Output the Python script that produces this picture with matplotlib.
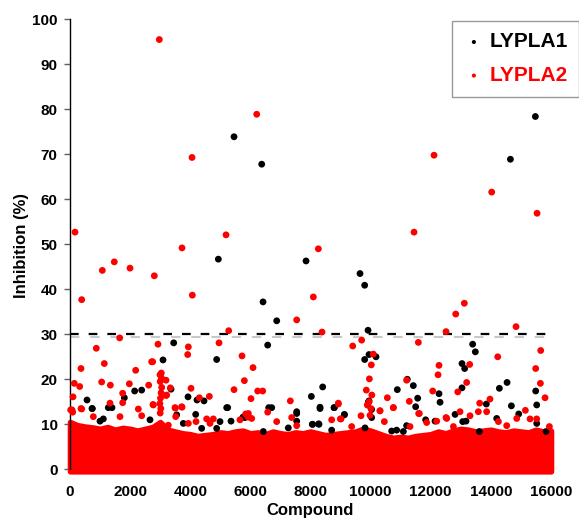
import numpy as np
import matplotlib.pyplot as plt

plt.rcParams['font.family'] = ['Liberation Sans', 'DejaVu Sans']
plt.rcParams['font.weight'] = 'bold'

# dense band of low-inhibition compounds: upper edge
band_x = [0, 250, 500, 750, 1000, 1250, 1500, 1750, 2000, 2250, 2500, 2750,
          3000, 3250, 3500, 3750, 4000, 4250, 4500, 4750, 5000, 5250, 5500,
          5750, 6000, 6250, 6500, 6750, 7000, 7250, 7500, 7750, 8000, 8250,
          8500, 8750, 9000, 9250, 9500, 9750, 10000, 10250, 10500, 10750,
          11000, 11250, 11500, 11750, 12000, 12250, 12500, 12750, 13000,
          13250, 13500, 13750, 14000, 14250, 14500, 14750, 15000, 15250,
          15500, 15750, 16000]
band_top = [10.5, 9.8, 9.5, 9.3, 9.0, 9.4, 8.8, 9.2, 9.0, 8.6, 9.0, 9.4,
            10.5, 8.8, 8.4, 8.0, 7.8, 7.4, 7.6, 7.8, 8.2, 8.0, 8.4,
            8.6, 8.0, 8.2, 7.8, 8.4, 8.0, 7.8, 8.2, 8.0, 8.4, 8.0,
            7.6, 7.8, 8.0, 8.2, 8.4, 9.0, 8.6, 8.0, 7.4, 7.0,
            7.2, 7.0, 7.4, 7.6, 7.8, 8.4, 8.0, 8.6, 9.0,
            8.8, 8.4, 8.6, 8.8, 8.4, 8.2, 8.6, 8.4, 8.2,
            8.8, 8.4, 8.6]

# LYPLA1 hits (black)
lypla1_x = [5456, 6377, 4934, 15480, 14650, 7851, 9647, 9802, 6421, 6876,
            3449, 6576, 3094, 4879, 3360, 2151, 2384, 1807, 566, 3926, 4225,
            4458, 732, 1275, 1397, 5212, 6610, 6710, 4181, 7541, 5755, 3770,
            9914, 13394, 13483, 9946, 10179, 9802, 13039, 13128, 11220, 14538,
            11420, 8405, 13039, 14283, 10888, 15491, 12275, 8028, 11565, 12309,
            13849, 15525, 14682, 11498, 8317, 8782, 10034, 9946, 9127, 12809,
            14926, 8072, 8272, 11831, 11197, 743, 1109, 998, 2661, 3549, 4380,
            4990, 4879, 8317, 7541, 5245, 8793, 9126, 7541, 8060, 8282, 7262,
            8704, 9924, 10034, 9814, 5356, 5822, 6430, 10700, 12143, 13063,
            13173, 14194, 15525, 10866, 11088, 15835, 13616]
lypla1_y = [73.9, 67.8, 46.7, 78.4, 68.9, 46.3, 43.5, 40.9, 37.2, 33.0,
            28.1, 27.6, 24.3, 24.4, 17.8, 17.4, 17.6, 15.9, 15.4, 16.1, 15.4,
            15.2, 13.5, 13.7, 13.7, 13.7, 13.7, 13.7, 12.2, 12.4, 11.6, 10.2,
            30.9, 27.8, 26.1, 25.5, 25.0, 24.4, 23.5, 22.4, 20.0, 19.3,
            18.6, 18.3, 18.1, 18.0, 17.7, 17.4, 16.8, 16.2, 15.8, 14.9,
            14.5, 14.3, 14.1, 13.9, 13.8, 13.7, 13.3, 15.2, 12.1, 12.2,
            12.3, 10.0, 10.1, 11.0, 9.7, 13.5, 11.2, 10.7, 11.0, 12.1, 9.1,
            10.6, 9.1, 13.5, 12.8, 13.7, 13.7, 12.2, 10.7, 10.0, 10.0, 9.2,
            8.7, 14.9, 11.5, 9.2, 10.7, 11.5, 8.4, 8.5, 10.7, 10.6,
            10.7, 11.3, 10.2, 8.7, 8.4, 8.4, 8.4]

# LYPLA2 hits (red)
lypla2_x = [2971, 6211, 4059, 166, 5190, 3726, 1474, 12109, 14028, 15536,
            11444, 8261, 1075, 1996, 2805, 389, 4069, 7541, 5279, 1653, 2927,
            4957, 875, 3936, 3915, 5722, 2717, 2750, 1141, 366, 6088, 2185,
            2994, 3037, 143, 1053, 3194, 1974, 5800, 322, 1342, 2617, 4026,
            3337, 5456, 6243, 6410, 1752, 3194, 100, 4635, 4302, 6021, 7329,
            3504, 3726, 1331, 366, 2761, 1752, 6576, 22, 90, 5844, 3515, 5922,
            4657, 8094, 13117, 12831, 14837, 8383, 12509, 9702, 11587, 9404,
            15658, 10089, 14228, 10023, 12275, 13295, 15491, 12243, 11197,
            9958, 13195, 15647, 9857, 12065, 12898, 15802, 10556, 13970, 11287,
            13627, 8926, 10755, 9891, 10311, 15148, 11598, 9680, 12509, 8704,
            8993, 67, 388, 2273, 3493, 3715, 4192, 4546, 4768, 2772, 3216,
            776, 1663, 2384, 3271, 3937, 8925, 5933, 6044, 7374, 6876, 9015,
            9902, 10312, 10456, 5655, 7541, 9370, 10756, 11620, 15946, 12531,
            12974, 13307, 13583, 13860, 14860, 15303, 15524, 12198, 11865,
            14250, 14527, 12753, 11310, 3000, 3020, 2990, 3010, 3030, 3050,
            3000, 3040, 9980, 10010, 9950, 10040]
lypla2_y = [95.5, 78.9, 69.3, 52.7, 52.1, 49.2, 46.1, 69.8, 61.6, 56.9,
            52.7, 49.0, 44.2, 44.7, 43.0, 37.7, 38.7, 33.2, 30.8, 29.2, 27.8,
            28.1, 26.9, 27.2, 25.5, 25.2, 23.9, 23.9, 23.5, 22.4, 22.6, 22.0,
            21.0, 21.4, 19.1, 19.4, 19.8, 19.0, 19.7, 18.4, 18.7, 18.7, 18.0,
            18.1, 17.7, 17.4, 17.4, 16.9, 16.4, 16.1, 16.2, 15.9, 15.7, 15.2,
            13.6, 13.8, 14.7, 13.5, 14.4, 14.8, 12.7, 13.2, 12.7, 12.3, 11.7, 11.6,
            10.2, 38.3, 36.9, 34.5, 31.7, 30.5, 30.6, 28.7, 28.2, 27.4,
            26.4, 25.6, 25.0, 23.2, 23.1, 23.3, 22.4, 21.0, 19.8,
            20.1, 19.3, 19.1, 17.6, 17.4, 17.2, 15.9, 15.9, 15.6, 15.1,
            14.7, 14.5, 13.7, 14.3, 13.0, 13.1, 12.4, 11.9, 11.5, 11.0,
            11.2, 13.2, 13.4, 13.4, 13.7, 13.9, 10.6, 11.2, 11.2, 14.3, 16.5,
            11.7, 11.7, 11.9, 9.8, 10.2, 14.7, 12.4, 11.3, 11.5, 10.6, 11.2,
            14.3, 13.0, 10.6, 11.0, 9.7, 9.5, 13.7, 12.4, 9.5, 11.3,
            12.8, 11.9, 12.8, 12.8, 11.3, 11.2, 11.2, 10.7, 10.4,
            10.6, 9.7, 9.5, 9.5, 12.5, 13.5, 14.6, 15.8, 17.0, 18.2,
            19.5, 20.3, 12.0, 13.5, 15.0, 16.5]

threshold = 30

fig = plt.figure(figsize=(5.79, 5.20), dpi=100)
ax = fig.add_axes([70 / 579, 1 - 469.3 / 520, 481 / 579, 450 / 520])

ax.fill_between(band_x, -0.45, band_top, color='red', lw=4,
                edgecolor='red', clip_on=False, zorder=2)

ax.axhline(threshold - 0.5, color='#c8c8c8', lw=1.5, ls=(0, (4.5, 5.2)), zorder=1)
ax.axhline(threshold, color='black', lw=1.6, ls=(0, (3.9, 4.5)), zorder=1)

h1 = ax.scatter(lypla1_x, lypla1_y, s=24, color='black', edgecolors='none',
                clip_on=False, zorder=3, label='LYPLA1')
h2 = ax.scatter(lypla2_x, lypla2_y, s=24, color='red', edgecolors='none',
                clip_on=False, zorder=4, label='LYPLA2')

ax.set_xlim(0, 16000)
ax.set_ylim(0, 100)
ax.set_xticks(np.arange(0, 16001, 2000))
ax.set_yticks(np.arange(0, 101, 10))
ax.tick_params(axis='y', length=4, width=1, color='#606060', pad=5, labelsize=11)
ax.tick_params(axis='x', length=0, pad=11, labelsize=11)
for s in ['top', 'right', 'bottom']:
    ax.spines[s].set_visible(False)
ax.spines['left'].set_linewidth(1)

fig.text(21.7 / 579, 1 - 245 / 520, 'Inhibition (%)', rotation=90,
         ha='center', va='center', fontsize=12, fontweight='bold')
ax.set_xlabel('Compound', fontsize=12, fontweight='bold', labelpad=3)

leg = fig.legend(handles=[h1, h2], loc='upper left',
                 bbox_to_anchor=(452 / 579, 1 - 21 / 520),
                 prop={'size': 15, 'weight': 'bold'}, frameon=True,
                 fancybox=False, edgecolor='#808080', borderpad=0.55,
                 handlelength=1.0, handletextpad=0.25, labelspacing=0.7,
                 markerscale=0.6, borderaxespad=0)
leg.get_frame().set_linewidth(1)
for t, c in zip(leg.get_texts(), ['black', 'red']):
    t.set_color(c)

fig.savefig('out.png', dpi=100)
